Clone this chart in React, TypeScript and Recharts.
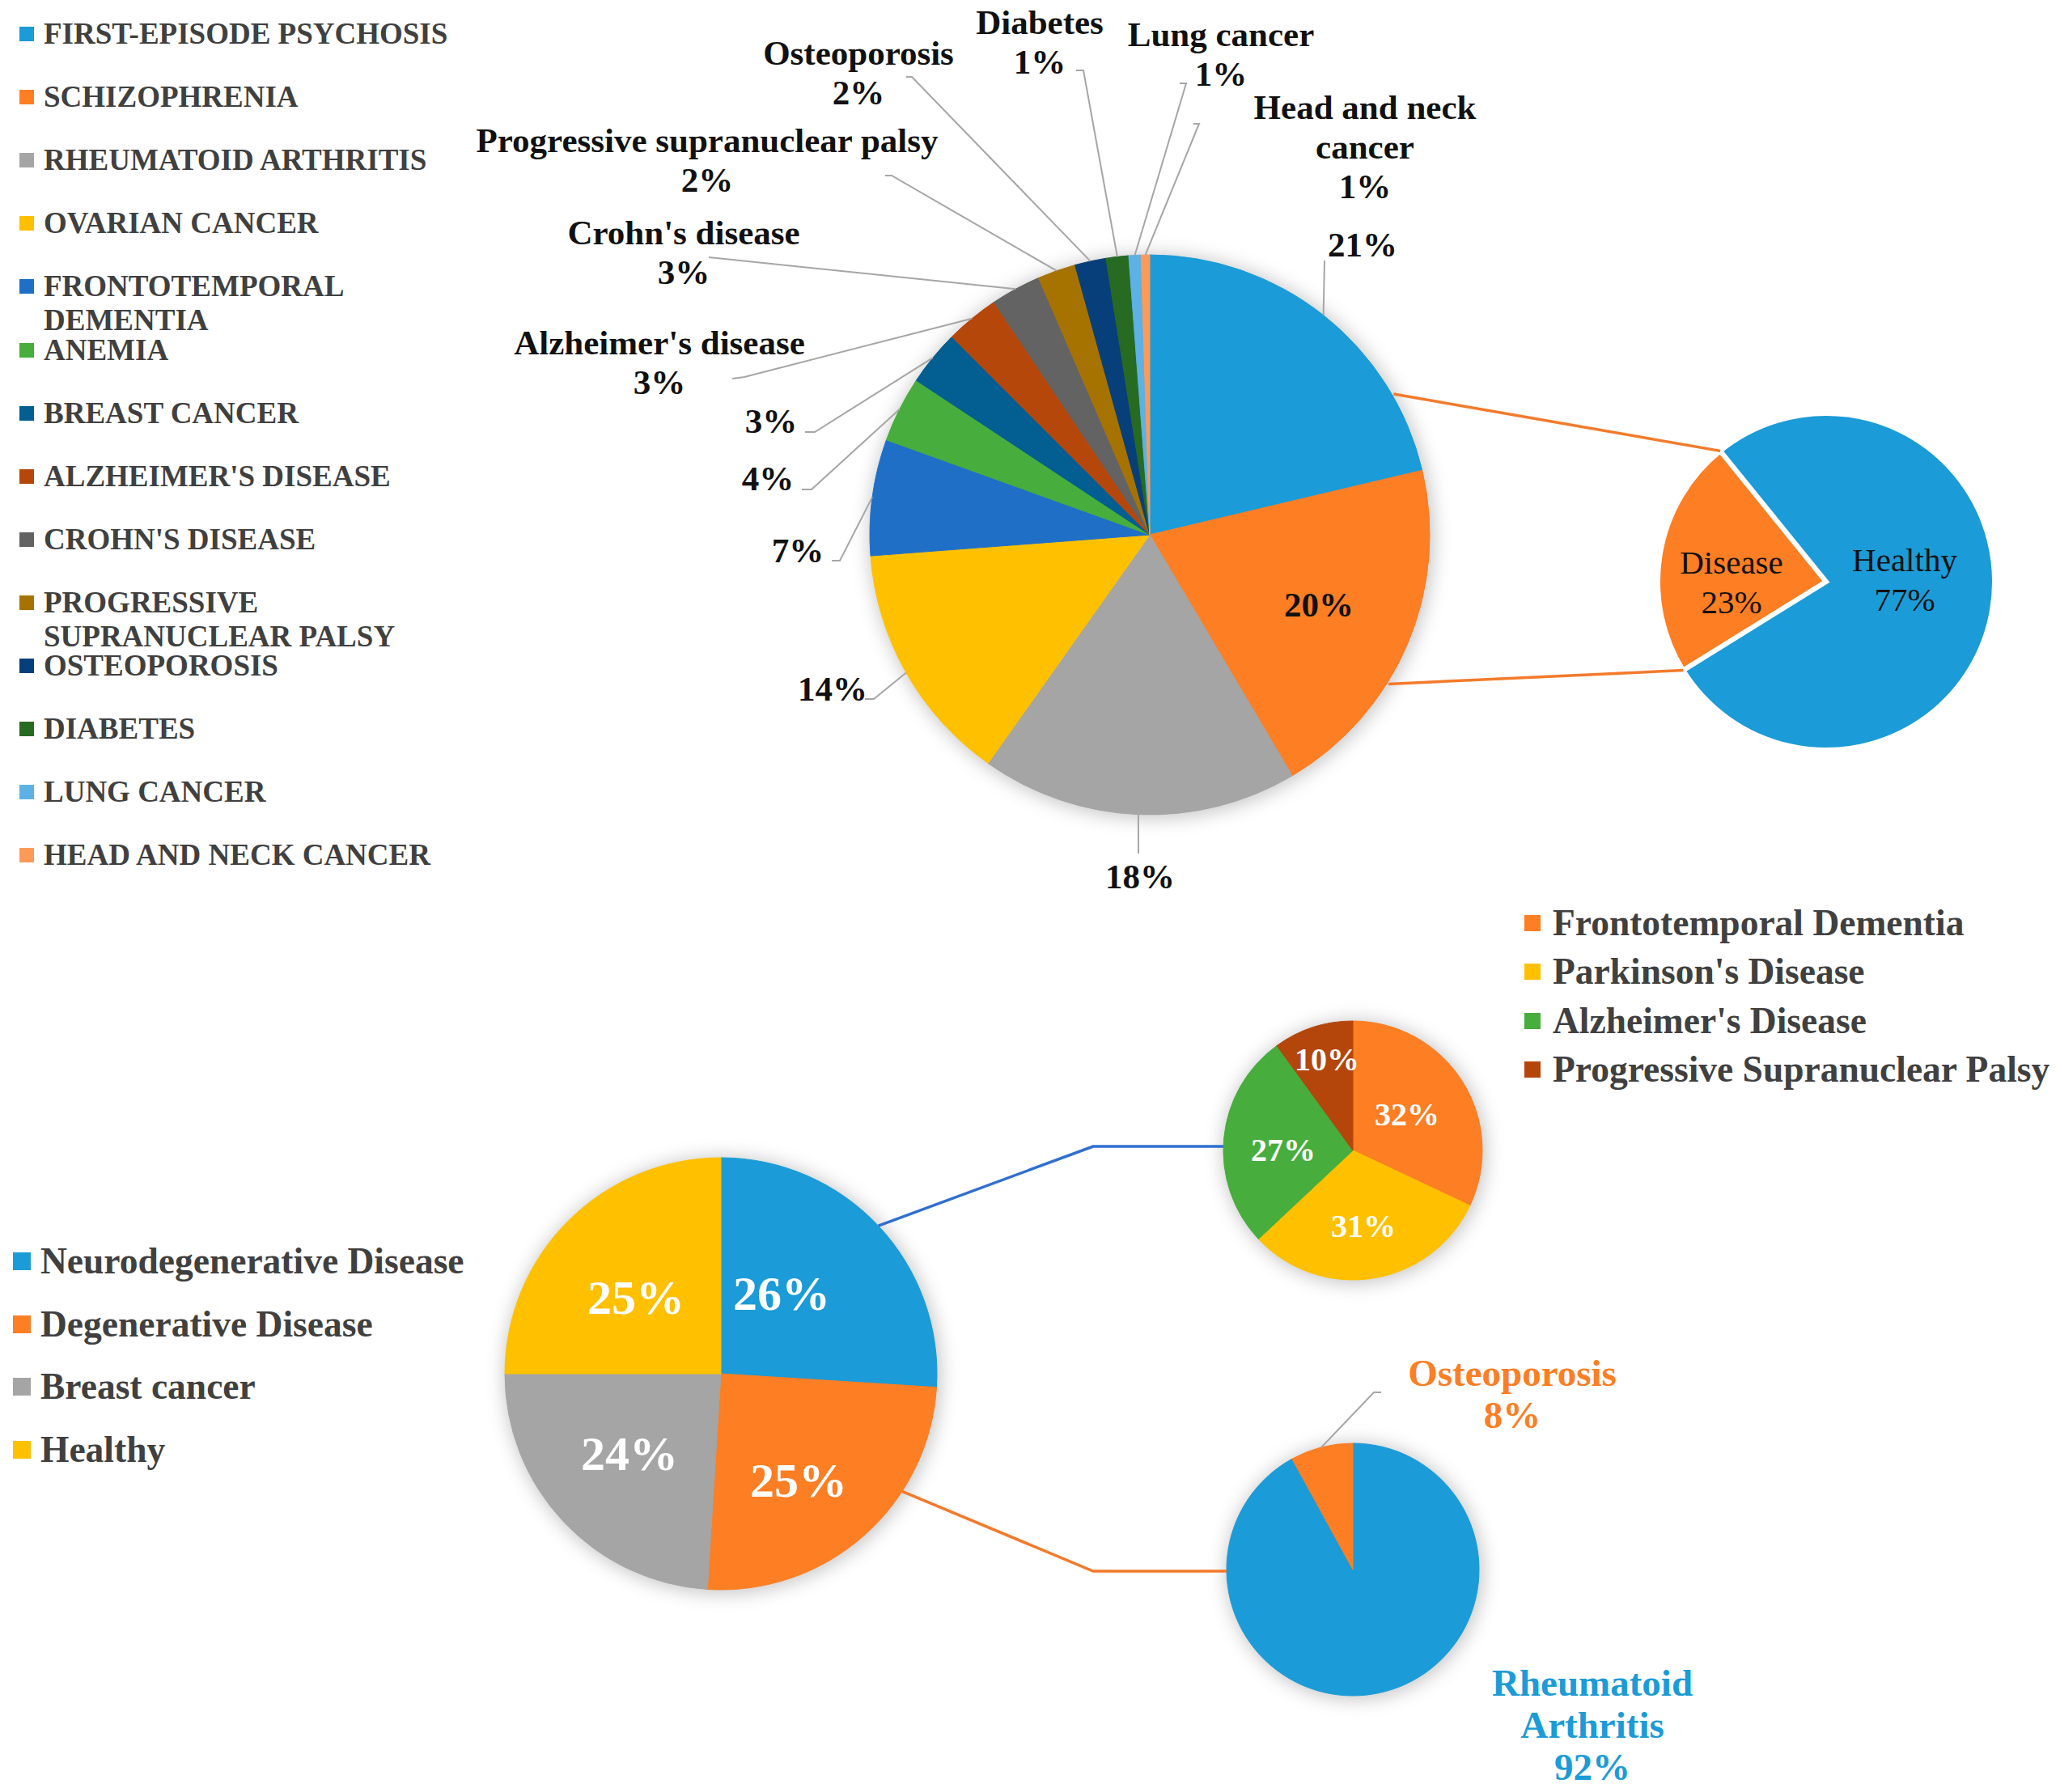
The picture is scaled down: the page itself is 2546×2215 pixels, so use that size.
import React from 'react';
import { PieChart, Pie, Cell } from 'recharts';

const W = 2546;
const H = 2215;
const SERIF = '"Liberation Serif", "Times New Roman", serif';
const RAD = Math.PI / 180;

// ---- data: disease breakdown (top pie) ----
const diseaseNames = [
  'First-episode psychosis', 'Schizophrenia', 'Rheumatoid arthritis', 'Ovarian cancer',
  'Frontotemporal dementia', 'Anemia', 'Breast cancer', "Alzheimer's disease", "Crohn's disease",
  'Progressive supranuclear palsy', 'Osteoporosis', 'Diabetes', 'Lung cancer', 'Head and neck cancer',
];
const diseaseValues = [21.3, 20.2, 18.3, 14.0, 6.7, 3.8, 3.2, 3.1, 2.9, 2.2, 1.8, 1.3, 0.7, 0.5];
const diseaseColors = [
  '#1b9bd7', '#fd7e23', '#a5a5a5', '#ffc000', '#1f6fc6', '#47ad3c', '#035e92',
  '#b6470b', '#636363', '#a77300', '#073f7a', '#276a22', '#5db1e5', '#fe9a57',
];

// ---- data: disease vs healthy ----
const splitNames = ['Disease', 'Healthy'];
const splitValues = [23, 77];
const splitColors = ['#fd7e23', '#1b9bd7'];

// ---- data: sample groups (bottom pie) ----
const groupNames = ['Neurodegenerative Disease', 'Degenerative Disease', 'Breast cancer', 'Healthy'];
const groupValues = [26, 25, 24, 25];
const groupColors = ['#1b9bd7', '#fd7e23', '#a5a5a5', '#ffc000'];

// ---- data: neurodegenerative breakdown ----
const neuroNames = ["Frontotemporal Dementia", "Parkinson's Disease", "Alzheimer's Disease", 'Progressive Supranuclear Palsy'];
const neuroValues = [32, 31, 27, 10];
const neuroColors = ['#fd7e23', '#ffc000', '#47ad3c', '#b5460b'];

// ---- data: degenerative breakdown ----
const degenNames = ['Rheumatoid Arthritis', 'Osteoporosis'];
const degenValues = [92, 8];
const degenColors = ['#1b9bd7', '#fd7e23'];

const toRows = (names: string[], values: number[]) => names.map((name, i) => ({ name, value: values[i] }));

// ---- layout ----
const MAIN = { cx: 1421, cy: 661, r: 346 };
const SPLIT = { cx: 2257, cy: 719, r: 208, start: 129 };
const GROUP = { cx: 891, cy: 1698, r: 267 };
const NEURO = { cx: 1672, cy: 1422, r: 160 };
const DEGEN = { cx: 1672, cy: 1940, r: 156 };

type LabelPos = { x: number; y: number; named?: boolean; wrap?: number; end?: number[]; tick?: number[] };

const mainLabelPos: LabelPos[] = [
  { x: 1684, y: 302, end: [1637, 322] },
  { x: 1630, y: 747 },
  { x: 1409, y: 1083, end: [1407, 1055] },
  { x: 1029, y: 851, end: [1080, 864], tick: [1069, 864] },
  { x: 986, y: 680, end: [1038, 693], tick: [1028, 693] },
  { x: 949, y: 591, end: [1003, 605], tick: [991, 605] },
  { x: 953, y: 520, end: [1007, 534], tick: [995, 534] },
  { x: 815, y: 423, named: true, end: [920, 466], tick: [905, 468] },
  { x: 845, y: 287, named: true, end: [876, 318] },
  { x: 874, y: 173, named: true, end: [1102, 217], tick: [1094, 217] },
  { x: 1061, y: 65, named: true, end: [1127, 95], tick: [1120, 95] },
  { x: 1285, y: 27, named: true, end: [1339, 87], tick: [1330, 87] },
  { x: 1509, y: 42, named: true, end: [1466, 103], tick: [1458, 103] },
  { x: 1687, y: 132, named: true, wrap: 14, end: [1482, 153], tick: [1475, 153] },
];
const splitLabelPos: LabelPos[] = [
  { x: 2140, y: 695, named: true },
  { x: 2354, y: 692, named: true },
];
const groupLabelPos: LabelPos[] = [
  { x: 966, y: 1599 }, { x: 987, y: 1830 }, { x: 778, y: 1797 }, { x: 786, y: 1604 },
];
const neuroLabelPos: LabelPos[] = [
  { x: 1739, y: 1377 }, { x: 1685, y: 1515 }, { x: 1586, y: 1421 }, { x: 1640, y: 1309 },
];
const degenLabelPos: LabelPos[] = [
  { x: 1968, y: 2080, named: true, wrap: 12 },
  { x: 1869, y: 1697, named: true, end: [1698, 1721], tick: [1707, 1721] },
];

const polar = (cx: number, cy: number, r: number, a: number) => [cx + r * Math.cos(a * RAD), cy - r * Math.sin(a * RAD)];

const wrapWords = (s: string, max: number) => {
  const out: string[] = [];
  let cur = '';
  for (const w of s.split(' ')) {
    if (cur && (cur + ' ' + w).length > max) {
      out.push(cur);
      cur = w;
    } else cur = cur ? cur + ' ' + w : w;
  }
  if (cur) out.push(cur);
  return out;
};

type LabelStyle = { size: number; weight: number; lh: number; color?: string; useFill?: boolean };

const makeLabel = (pos: LabelPos[], st: LabelStyle) => (p: any) => {
  const L = pos[p.index];
  if (!L) return null;
  const pct = `${Math.round(p.percent * 100)}%`;
  const lines = L.named ? [...wrapWords(p.name, L.wrap ?? 99), pct] : [pct];
  const edge = polar(p.cx, p.cy, p.outerRadius, p.midAngle);
  const pts = L.end ? [edge, L.end, ...(L.tick ? [L.tick] : [])] : null;
  const fill = st.useFill ? degenColors[p.index] : st.color;
  return (
    <g key={`lbl-${p.index}`}>
      {pts && (
        <polyline points={pts.map((q) => q.join(',')).join(' ')} fill="none" stroke="#a6a6a6" strokeWidth={2} />
      )}
      {lines.map((t, i) => (
        <text
          key={i}
          x={L.x}
          y={L.y + i * st.lh}
          textAnchor="middle"
          dominantBaseline="central"
          fontFamily={SERIF}
          fontSize={st.size}
          fontWeight={st.weight}
          fill={fill}
        >
          {t}
        </text>
      ))}
    </g>
  );
};

type LegendProps = { items: string[]; colors: string[]; x: number; y0: number; step: number; font: number; lh: number; box: number; gap: number; width: number; upper?: boolean; nowrap?: boolean };

const LegendBlock = ({ items, colors, x, y0, step, font, lh, box, gap, width, upper, nowrap }: LegendProps) => (
  <>
    {items.map((t, i) => {
      const yc = y0 + i * step;
      return (
        <React.Fragment key={t}>
          <div style={{ position: 'absolute', left: x, top: yc - box / 2, width: box, height: box, background: colors[i] }} />
          <div
            style={{
              position: 'absolute',
              left: x + box + gap,
              top: yc - lh / 2,
              width,
              fontFamily: SERIF,
              fontWeight: 700,
              fontSize: font,
              lineHeight: `${lh}px`,
              color: '#404040',
              whiteSpace: nowrap ? 'nowrap' : 'normal',
            }}
          >
            {upper ? t.toUpperCase() : t}
          </div>
        </React.Fragment>
      );
    })}
  </>
);

export default function App() {
  // connector geometry derived from the pies
  const sTop = polar(SPLIT.cx, SPLIT.cy, SPLIT.r, SPLIT.start);
  const sBot = polar(SPLIT.cx, SPLIT.cy, SPLIT.r, SPLIT.start + (360 * splitValues[0]) / 100);
  const mTop = polar(MAIN.cx, MAIN.cy, MAIN.r + 2, 30);
  const mBot = polar(MAIN.cx, MAIN.cy, MAIN.r + 2, -32);
  const groupTotal = groupValues.reduce((a, b) => a + b, 0);
  const neuroMid = 90 - (360 * groupValues[0]) / groupTotal / 2;
  const gBlue = polar(GROUP.cx, GROUP.cy, GROUP.r, neuroMid);
  const gOrange = polar(GROUP.cx, GROUP.cy, GROUP.r, -33);
  const elbowX = 1351;
  const shadowed = [MAIN, GROUP, NEURO, DEGEN];

  return (
    <div style={{ position: 'relative', width: W, height: H, background: '#fff', overflow: 'hidden' }}>
      <style>{'body{margin:0}'}</style>

      {/* soft shadows under the pies */}
      <svg width={W} height={H} style={{ position: 'absolute', left: 0, top: 0 }}>
        <defs>
          <filter id="pieGlow" x="-30%" y="-30%" width="160%" height="160%">
            <feGaussianBlur stdDeviation="11" />
          </filter>
        </defs>
        {shadowed.map((p, i) => (
          <circle key={i} cx={p.cx + 2} cy={p.cy + 2} r={p.r + 3} fill="rgba(0,0,0,0.22)" filter="url(#pieGlow)" />
        ))}
      </svg>

      <PieChart width={W} height={H} margin={{ top: 0, right: 0, bottom: 0, left: 0 }} style={{ position: 'absolute', left: 0, top: 0 }}>
        <Pie
          data={toRows(diseaseNames, diseaseValues)}
          dataKey="value"
          nameKey="name"
          cx={MAIN.cx}
          cy={MAIN.cy}
          outerRadius={MAIN.r}
          startAngle={90}
          endAngle={-270}
          labelLine={false}
          label={makeLabel(mainLabelPos, { size: 43, weight: 700, lh: 49, color: '#111' })}
          isAnimationActive={false}
        >
          {diseaseColors.map((c, i) => (
            <Cell key={i} fill={c} stroke={c} strokeWidth={1} />
          ))}
        </Pie>

        <Pie
          data={toRows(splitNames, splitValues)}
          dataKey="value"
          nameKey="name"
          cx={SPLIT.cx}
          cy={SPLIT.cy}
          outerRadius={SPLIT.r}
          startAngle={SPLIT.start}
          endAngle={SPLIT.start + 360}
          labelLine={false}
          label={makeLabel(splitLabelPos, { size: 41, weight: 400, lh: 49, color: '#111' })}
          isAnimationActive={false}
        >
          {splitColors.map((c, i) => (
            <Cell key={i} fill={c} stroke="#fff" strokeWidth={6} />
          ))}
        </Pie>

        <Pie
          data={toRows(groupNames, groupValues)}
          dataKey="value"
          nameKey="name"
          cx={GROUP.cx}
          cy={GROUP.cy}
          outerRadius={GROUP.r}
          startAngle={90}
          endAngle={-270}
          labelLine={false}
          label={makeLabel(groupLabelPos, { size: 60, weight: 700, lh: 60, color: '#fff' })}
          isAnimationActive={false}
        >
          {groupColors.map((c, i) => (
            <Cell key={i} fill={c} stroke={c} strokeWidth={1} />
          ))}
        </Pie>

        <Pie
          data={toRows(neuroNames, neuroValues)}
          dataKey="value"
          nameKey="name"
          cx={NEURO.cx}
          cy={NEURO.cy}
          outerRadius={NEURO.r}
          startAngle={90}
          endAngle={-270}
          labelLine={false}
          label={makeLabel(neuroLabelPos, { size: 40, weight: 700, lh: 40, color: '#fff' })}
          isAnimationActive={false}
        >
          {neuroColors.map((c, i) => (
            <Cell key={i} fill={c} stroke={c} strokeWidth={1} />
          ))}
        </Pie>

        <Pie
          data={toRows(degenNames, degenValues)}
          dataKey="value"
          nameKey="name"
          cx={DEGEN.cx}
          cy={DEGEN.cy}
          outerRadius={DEGEN.r}
          startAngle={90}
          endAngle={-270}
          labelLine={false}
          label={makeLabel(degenLabelPos, { size: 47, weight: 700, lh: 52, useFill: true })}
          isAnimationActive={false}
        >
          {degenColors.map((c, i) => (
            <Cell key={i} fill={c} stroke={c} strokeWidth={1} />
          ))}
        </Pie>
      </PieChart>

      {/* connectors between pies */}
      <svg width={W} height={H} style={{ position: 'absolute', left: 0, top: 0, pointerEvents: 'none' }}>
        <line x1={mTop[0]} y1={mTop[1]} x2={sTop[0]} y2={sTop[1]} stroke="#f47a2a" strokeWidth={3.5} />
        <line x1={mBot[0]} y1={mBot[1]} x2={sBot[0]} y2={sBot[1]} stroke="#f47a2a" strokeWidth={3.5} />
        <polyline
          points={`${gBlue[0]},${gBlue[1]} ${elbowX},${NEURO.cy - 5} ${NEURO.cx - NEURO.r},${NEURO.cy - 5}`}
          fill="none"
          stroke="#2f6fcf"
          strokeWidth={3.5}
        />
        <polyline
          points={`${gOrange[0]},${gOrange[1]} ${elbowX},${DEGEN.cy + 2} ${DEGEN.cx - DEGEN.r},${DEGEN.cy + 2}`}
          fill="none"
          stroke="#f47a2a"
          strokeWidth={3.5}
        />
      </svg>

      <LegendBlock items={diseaseNames} colors={diseaseColors} x={24} y0={42} step={78.1} font={37} lh={42} box={18} gap={12} width={540} upper />
      <LegendBlock items={groupNames} colors={groupColors} x={16} y0={1559} step={77.5} font={45.5} lh={52} box={22} gap={12} width={700} nowrap />
      <LegendBlock items={neuroNames} colors={neuroColors} x={1884} y0={1141} step={60.3} font={45.5} lh={54} box={20} gap={15} width={640} nowrap />
    </div>
  );
}
